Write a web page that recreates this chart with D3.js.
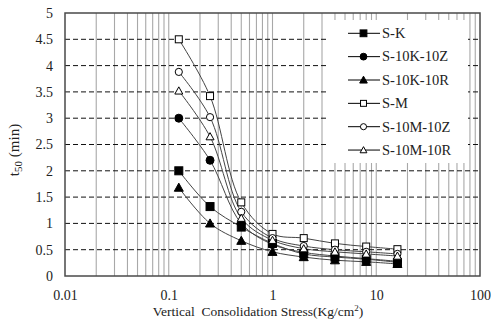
<!DOCTYPE html>
<html><head><meta charset="utf-8">
<script src="https://cdn.jsdelivr.net/npm/d3@7"></script>
<style>body{margin:0;background:#fff}svg{display:block}svg text{font-family:'Liberation Serif','DejaVu Serif',serif !important;fill:#222}</style>
</head><body><svg id="c" width="491" height="322"></svg>
<script>
const stress = [0.125, 0.25, 0.5, 1, 2, 4, 8, 16];
const seriesNames = ["S-K", "S-10K-10Z", "S-10K-10R", "S-M", "S-10M-10Z", "S-10M-10R"];
const sK      = [2.0, 1.32, 0.93, 0.62, 0.42, 0.36, 0.32, 0.26];
const s10K10Z = [3.0, 2.2, 1.0, 0.6, 0.45, 0.38, 0.33, 0.28];
const s10K10R = [1.68, 1.0, 0.67, 0.46, 0.36, 0.3, 0.27, 0.23];
const sM      = [4.5, 3.42, 1.4, 0.8, 0.72, 0.62, 0.56, 0.51];
const s10M10Z = [3.88, 3.02, 1.22, 0.72, 0.57, 0.5, 0.46, 0.42];
const s10M10R = [3.52, 2.65, 1.1, 0.68, 0.52, 0.46, 0.42, 0.38];
const seriesValues = [sK, s10K10Z, s10K10R, sM, s10M10Z, s10M10R];
const markerShapes = ["square", "circle", "triangle", "square", "circle", "triangle"];
const markerFilled = [true, true, true, false, false, false];
const xTickLabels = ["0.01", "0.1", "1", "10", "100"];
const yTickLabels = ["0", "0.5", "1", "1.5", "2", "2.5", "3", "3.5", "4", "4.5", "5"];

const FONT = "'Liberation Serif','DejaVu Serif',serif";
const svg = d3.select("#c").attr("font-family", FONT);
const L = 65, R = 480, T = 13, B = 276;
const x = d3.scaleLog().domain([0.01, 100]).range([L, R]);
const y = d3.scaleLinear().domain([0, 5]).range([B, T]);

const vg = [];
for (let e = -2; e < 2; e++) for (let m = 1; m <= 9; m++) vg.push(m * Math.pow(10, e));
svg.append("g").selectAll("line").data(vg.slice(1)).join("line")
  .attr("x1", d => x(d)).attr("x2", d => x(d)).attr("y1", T).attr("y2", B)
  .attr("stroke", "#a8a8a8").attr("stroke-width", 1.1);
const hv = yTickLabels.map(Number).filter(v => v > 0 && v < 5);
svg.append("g").selectAll("line").data(hv).join("line")
  .attr("x1", L).attr("x2", R).attr("y1", d => y(d)).attr("y2", d => y(d))
  .attr("stroke", "#111").attr("stroke-width", 1).attr("stroke-dasharray", "5,3");

svg.append("rect").attr("x", 326).attr("y", 20).attr("width", 142).attr("height", 143).attr("fill", "#fff");

svg.append("rect").attr("x", L).attr("y", T).attr("width", R - L).attr("height", B - T)
  .attr("fill", "none").attr("stroke", "#4a4a4a").attr("stroke-width", 1.5);

const xAxis = d3.axisBottom(x).tickValues(xTickLabels.map(Number)).tickFormat((d, i) => xTickLabels[i]).tickSize(0).tickPadding(14);
const gx = svg.append("g").attr("transform", `translate(0,${B})`).call(xAxis).attr("font-family", FONT);
gx.select(".domain").remove();
gx.selectAll("text").attr("font-size", 14).attr("fill", "#222");
const yAxis = d3.axisLeft(y).tickValues(yTickLabels.map(Number)).tickFormat((d, i) => yTickLabels[i]).tickSize(0).tickPadding(12);
const gy = svg.append("g").attr("transform", `translate(${L},0)`).call(yAxis).attr("font-family", FONT);
gy.select(".domain").remove();
gy.selectAll("text").attr("font-size", 14).attr("fill", "#222");

const xt = svg.append("text").attr("x", 258).attr("y", 316).attr("text-anchor", "middle").attr("font-size", 13.5).style("white-space", "pre");
xt.append("tspan").text("Vertical\u00a0 Consolidation Stress(Kg/cm");
xt.append("tspan").attr("dy", -5).attr("font-size", 9).text("2");
xt.append("tspan").attr("dy", 5).text(")");
const yt = svg.append("text").attr("transform", "translate(19,150) rotate(-90)").attr("text-anchor", "middle").attr("font-size", 15).style("white-space", "pre");
yt.append("tspan").text("t");
yt.append("tspan").attr("dy", 3).attr("font-size", 11).text("50");
yt.append("tspan").attr("dy", -3).text("\u00a0(min)");

function marker(g, shape, filled, cx, cy, k) {
  const fill = filled ? "#000" : "#fff";
  if (shape === "square") {
    const s = (filled ? 8 : 7) * k;
    g.append("rect").attr("x", cx - s / 2).attr("y", cy - s / 2).attr("width", s).attr("height", s)
      .attr("fill", fill).attr("stroke", "#000").attr("stroke-width", 1);
  } else if (shape === "circle") {
    g.append("circle").attr("cx", cx).attr("cy", cy).attr("r", (filled ? 4 : 3.6) * k)
      .attr("fill", fill).attr("stroke", "#000").attr("stroke-width", 1);
  } else {
    const s = (filled ? 4.5 : 4) * k;
    g.append("path").attr("d", `M${cx},${cy - s}L${cx + s},${cy + s * 0.8}L${cx - s},${cy + s * 0.8}Z`)
      .attr("fill", fill).attr("stroke", "#000").attr("stroke-width", 1);
  }
}

const line = d3.line().x(d => x(d[0])).y(d => y(d[1])).curve(d3.curveCatmullRom.alpha(0.5));
const plot = svg.append("g");
seriesValues.forEach((vals, i) => {
  const pts = stress.map((s, j) => [s, vals[j]]);
  plot.append("path").attr("d", line(pts)).attr("fill", "none").attr("stroke", "#444").attr("stroke-width", 1);
});
seriesValues.forEach((vals, i) => {
  stress.forEach((s, j) => marker(plot, markerShapes[i], markerFilled[i], x(s), y(vals[j]), 1));
});

const lg = svg.append("g");
seriesNames.forEach((n, i) => {
  const yy = 33.3 + i * 23.35;
  lg.append("line").attr("x1", 348).attr("x2", 380).attr("y1", yy).attr("y2", yy).attr("stroke", "#000").attr("stroke-width", 1);
  marker(lg, markerShapes[i], markerFilled[i], 363.5, yy, 0.85);
  lg.append("text").attr("x", 382).attr("y", yy + 4.8).attr("font-size", 14.5).text(n);
});
</script></body></html>
